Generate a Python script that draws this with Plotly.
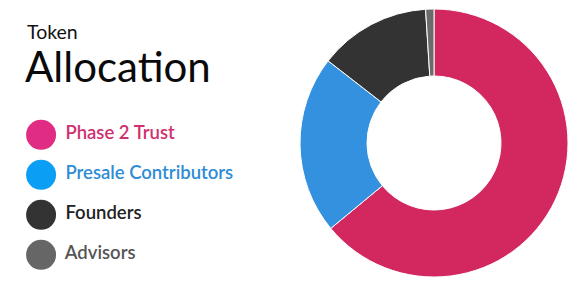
import plotly.graph_objects as go

# Token allocation shares (percent)
labels = ["Phase 2 Trust", "Presale Contributors", "Founders", "Advisors"]
shares = [64, 21.5, 13.5, 1]
slice_colors = ["#d2285f", "#3391e0", "#333333", "#6b6b6b"]
dot_colors = ["#e02c83", "#0a9ef5", "#333333", "#666666"]
text_colors = ["#d0306f", "#2f8cd6", "#222222", "#555555"]
legend_rows = [3, 2, 1, 0]

W, H = 579, 286

fig = go.Figure()

fig.add_trace(go.Pie(
    labels=labels,
    values=shares,
    hole=0.5,
    sort=False,
    direction="clockwise",
    rotation=0,
    marker=dict(colors=slice_colors, line=dict(color="#ffffff", width=1)),
    textinfo="none",
    hoverinfo="skip",
    showlegend=False,
    domain=dict(x=[300 / W, 568 / W], y=[0, 1]),
))

# Custom legend: large dots with coloured labels
fig.add_trace(go.Scatter(
    x=[0] * len(labels),
    y=legend_rows,
    mode="markers+text",
    marker=dict(size=30, color=dot_colors),
    text=[" " + l for l in labels],
    textposition="middle right",
    textfont=dict(family="Lato", size=18.5, color=text_colors, weight=600),
    hoverinfo="skip",
    showlegend=False,
    cliponaxis=False,
))

fig.update_layout(
    width=W,
    height=H,
    margin=dict(l=0, r=0, t=0, b=0),
    paper_bgcolor="#ffffff",
    plot_bgcolor="#ffffff",
    xaxis=dict(domain=[0, 0.5], range=[-1.5, 9.07], visible=False, fixedrange=True),
    yaxis=dict(domain=[0, 1], range=[-0.78, 6.37], visible=False, fixedrange=True),
    annotations=[
        dict(text="Token", x=25 / W, y=1 - 32 / H, xref="paper", yref="paper",
             xanchor="left", yanchor="middle", showarrow=False,
             font=dict(family="Lato", size=19.5, color="#111111")),
        dict(text="Allocation", x=23 / W, y=1 - 66 / H, xref="paper", yref="paper",
             xanchor="left", yanchor="middle", showarrow=False,
             font=dict(family="Lato", size=42, color="#0a0a0a")),
    ],
)

fig.write_html("out.html")
